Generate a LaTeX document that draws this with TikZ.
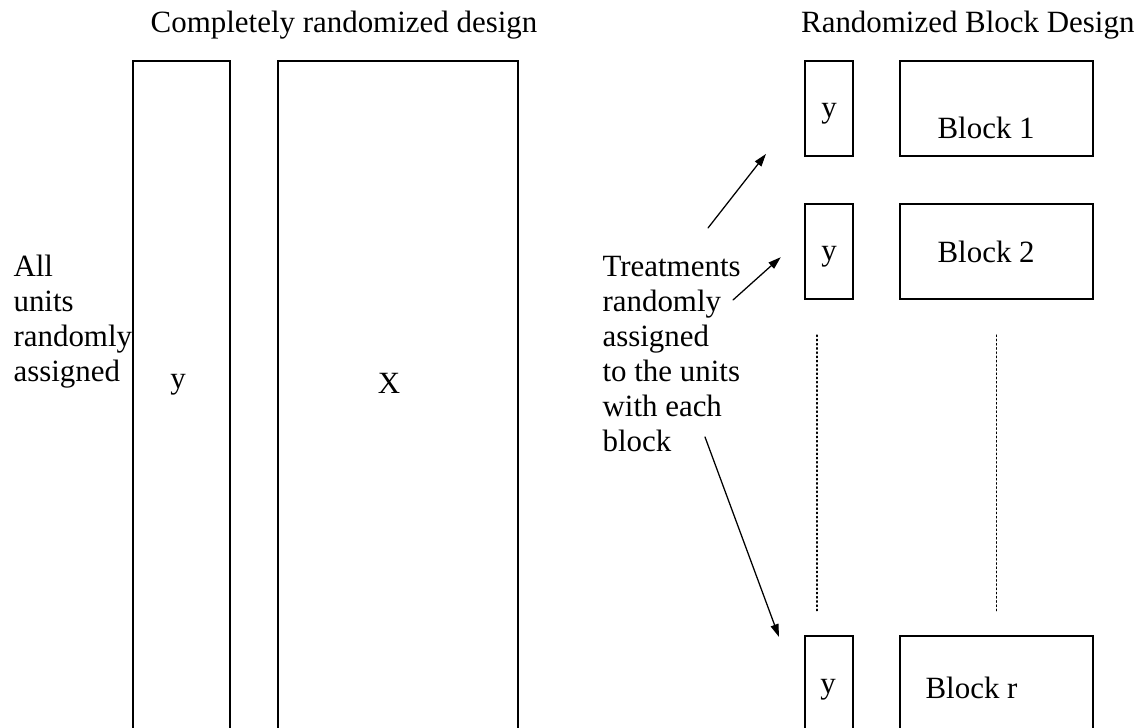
\documentclass[tikz,border=0pt]{standalone}
\usepackage{fontspec}
\setmainfont{Liberation Serif}
\usetikzlibrary{arrows.meta}

\begin{document}
\begin{tikzpicture}[>={Triangle[length=1.6mm,width=1mm]}, line cap=round,
  box/.style={draw, line width=0.75pt, rectangle, inner sep=0pt, anchor=north west},
  txt/.style={inner sep=0pt, font=\fontsize{11}{12.45}\selectfont}]
\clip (0,0) rectangle (14.2625,9.1);
% completely randomized design: two long columns
\node[txt] (crd) at (4.3,8.79) {Completely randomized design};
\node[box, minimum width=1.2125cm, minimum height=9cm] (ycol) at (1.65,8.35) {};
\node[box, minimum width=3cm, minimum height=9cm] (xcol) at (3.4625,8.35) {};
\node[txt] (ylab) at (2.225,4.29) {y};
\node[txt] (xlab) at (4.8625,4.31) {X};
\node[txt, align=left, anchor=north west] (allu) at (0.1625,5.925) {All\\units\\randomly\\assigned};
% randomized block design: one row per block
\node[txt, anchor=east] (rbd) at (14.1875,8.79) {Randomized Block Design};
\node[box, minimum width=0.6cm, minimum height=1.1875cm] (y1) at (10.05,8.35) {};
\node[box, minimum width=2.4125cm, minimum height=1.1875cm] (b1) at (11.2375,8.35) {};
\node[box, minimum width=0.6cm, minimum height=1.1875cm] (y2) at (10.05,6.5625) {};
\node[box, minimum width=2.4125cm, minimum height=1.1875cm] (b2) at (11.2375,6.5625) {};
\node[box, minimum width=0.6cm, minimum height=2cm] (yr) at (10.05,1.1625) {};
\node[box, minimum width=2.4125cm, minimum height=2cm] (br) at (11.2375,1.1625) {};
\node[txt] (y1t) at ([yshift=-0.07cm]y1.center) {y};
\node[txt, anchor=west] (b1t) at ([xshift=0.475cm,yshift=-0.24cm]b1.west) {Block 1};
\node[txt] (y2t) at ([yshift=-0.06cm]y2.center) {y};
\node[txt, anchor=west] (b2t) at ([xshift=0.475cm]b2.west) {Block 2};
\node[txt] (yrt) at (10.35,0.475) {y};
\node[txt, anchor=west] (brt) at (11.5625,0.5) {Block r};
% dotted gaps between block 2 and block r
\draw[densely dotted, line width=0.5pt] ([xshift=-0.15cm,yshift=-0.4375cm]y2.south) -- ([xshift=-0.15cm,yshift=0.2875cm]yr.north);
\draw[densely dotted, line width=0.5pt] ([yshift=-0.4375cm]b2.south) -- ([yshift=0.2875cm]br.north);
% treatments note and its arrows
\node[txt, align=left, anchor=north west] (treat) at (7.525,5.9) {Treatments\\randomly\\assigned\\to the units\\with each\\block};
\coordinate (a1s) at ([shift={(1.325,0.35)}]treat.north west);
\coordinate (a2s) at ([shift={(1.6375,-0.55)}]treat.north west);
\coordinate (a3s) at ([shift={(1.2875,-2.2625)}]treat.north west);
\draw[->, line width=0.45pt] (a1s) -- ([shift={(-0.475,0.04)}]y1.south west);
\draw[->, line width=0.45pt] (a2s) -- ([shift={(-0.29,-0.07)}]y2.west);
\draw[->, line width=0.45pt] (a3s) -- ([shift={(-0.3125,-0.025)}]yr.north west);
\end{tikzpicture}
\end{document}
